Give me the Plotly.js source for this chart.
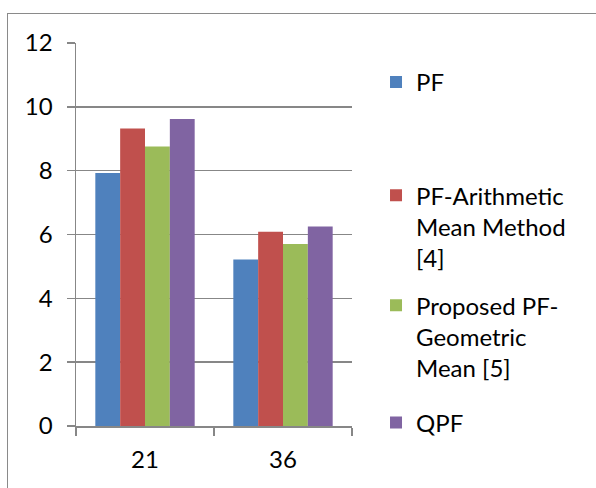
<!DOCTYPE html>
<html>
<head>
<meta charset="utf-8">
<script src="https://cdn.plot.ly/plotly-3.0.1.min.js"></script>
<style>
  html, body { margin: 0; padding: 0; background: #fff; }
  #wrap { position: relative; width: 596px; height: 488px; overflow: hidden; }
  #chart { position: absolute; left: 0; top: 0; width: 596px; height: 488px; }
  #frame {
    position: absolute; left: 7px; top: 13px; width: 620px; height: 520px;
    border-left: 1.5px solid #8a8a8a; border-top: 1.5px solid #8a8a8a;
    pointer-events: none;
  }
</style>
</head>
<body>
<div id="wrap">
  <div id="chart"></div>
  <div id="frame"></div>
</div>
<script>
// Categories along the x axis
var categories = ['21', '36'];

// Series names (legend text) and values per category
var seriesNames = [
  'PF',
  'PF-Arithmetic<br>Mean Method<br>[4]',
  'Proposed PF-<br>Geometric<br>Mean [5]',
  'QPF'
];
var pfValues = [7.93, 5.22];
var arithmeticValues = [9.32, 6.09];
var geometricValues = [8.76, 5.70];
var qpfValues = [9.62, 6.25];

var seriesColors = ['#4F81BD', '#C0504D', '#9BBB59', '#8064A2'];
var seriesValues = [pfValues, arithmeticValues, geometricValues, qpfValues];

// y tick values
var yTicks = [0, 2, 4, 6, 8, 10, 12];

var FONT = 'Lato, "Open Sans", "Liberation Sans", sans-serif';
var FS = 24;
var legendIds = ['legend', 'legend2', 'legend3', 'legend4'];
var legendY = [0.956, 0.660, 0.373, 0.067];

var traces = seriesValues.map(function (vals, i) {
  return {
    type: 'bar',
    name: seriesNames[i],
    x: categories,
    y: vals,
    marker: { color: seriesColors[i], line: { width: 0 } },
    legend: legendIds[i],
    showlegend: true,
    hoverinfo: 'x+y+name'
  };
});

var legendBase = {
  x: 1.087,
  xanchor: 'left',
  yanchor: 'top',
  valign: 'top',
  bgcolor: 'rgba(0,0,0,0)',
  borderwidth: 0,
  font: { family: FONT, size: FS, color: '#000' }
};

var layout = {
  width: 596,
  height: 488,
  showlegend: true,
  margin: { l: 76, r: 244, t: 43, b: 62 },
  paper_bgcolor: '#fff',
  plot_bgcolor: '#fff',
  barmode: 'group',
  bargap: 0.28,
  bargroupgap: 0,
  font: { family: FONT, size: FS, color: '#000' },
  xaxis: {
    type: 'category',
    tickson: 'boundaries',
    ticks: 'outside',
    ticklen: 8,
    tickwidth: 1.5,
    tickcolor: '#878787',
    showline: true,
    linecolor: '#878787',
    linewidth: 1.5,
    showgrid: false,
    tickfont: { family: FONT, size: FS, color: '#000' },
    ticklabelstandoff: 12
  },
  yaxis: {
    range: [0, 12],
    tickvals: yTicks,
    ticktext: yTicks.map(String),
    ticks: 'outside',
    ticklen: 8,
    tickwidth: 1.5,
    tickcolor: '#878787',
    showline: true,
    linecolor: '#878787',
    linewidth: 1.5,
    showgrid: true,
    gridcolor: '#878787',
    gridwidth: 1.5,
    zeroline: false,
    tickfont: { family: FONT, size: FS, color: '#000' },
    ticklabelstandoff: 9
  }
};

legendIds.forEach(function (id, i) {
  layout[id] = Object.assign({}, legendBase, { y: legendY[i] });
});

Plotly.newPlot('chart', traces, layout, { displayModeBar: false, staticPlot: true });
</script>
</body>
</html>
